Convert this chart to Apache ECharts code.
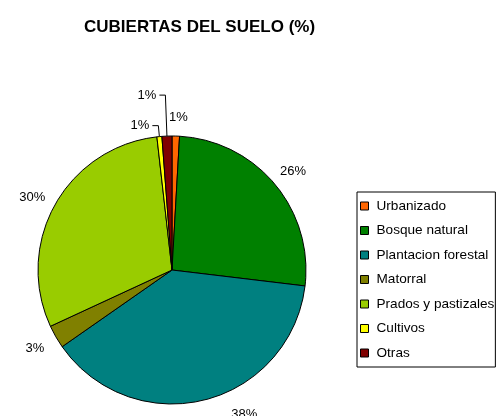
<!DOCTYPE html>
<html>
<head>
<meta charset="utf-8">
<script src="https://cdn.jsdelivr.net/npm/echarts@6/dist/echarts.min.js"></script>
<style>html,body{margin:0;padding:0;background:#fff}#c{width:500px;height:416px}</style>
</head>
<body>
<div id="c"></div>
<script>
const titleText = 'CUBIERTAS DEL SUELO (%)';
const categories = ['Urbanizado', 'Bosque natural', 'Plantacion forestal', 'Matorral', 'Prados y pastizales', 'Cultivos', 'Otras'];
const values = [0.9, 26.0, 38.4, 2.8, 30.1, 0.6, 1.2];
const colors = ['#FF6600', '#008000', '#008080', '#808000', '#99CC00', '#FFFF00', '#800000'];
// slices whose label is drawn with a leader line
const leaderLength = { 'Cultivos': 11, 'Otras': 41 };

const fmt = p => Math.round(p.value) + '%';

const mainData = categories.map((name, i) => {
  const lead = leaderLength[name];
  return {
    name, value: values[i],
    itemStyle: { color: colors[i] },
    label: { show: lead !== undefined },
    labelLine: lead !== undefined ? { show: true, length: lead, length2: 6 } : { show: false }
  };
});

const ringData = categories.map((name, i) => {
  const item = { name, value: values[i], label: { show: leaderLength[name] === undefined } };
  if (name === 'Plantacion forestal') item.label.offset = [34, -9];
  if (name === 'Urbanizado') item.label.offset = [2, 5];
  if (name === 'Prados y pastizales') item.label.offset = [-2, 5];
  if (name === 'Bosque natural') item.label.offset = [0, 3];
  return item;
});

const chart = echarts.init(document.getElementById('c'), null, { renderer: 'canvas' });
chart.setOption({
  animation: false,
  backgroundColor: '#fff',
  title: {
    text: titleText, left: 79, top: 12,
    textStyle: { fontFamily: 'Liberation Sans, Arial, sans-serif', fontSize: 17, fontWeight: 'bold', color: '#000', lineHeight: 20 }
  },
  legend: {
    orient: 'vertical', left: 357, top: 192,
    data: categories,
    borderColor: '#000', borderWidth: 1, borderRadius: 0,
    padding: [7, 1, 7, 3],
    itemWidth: 8, itemHeight: 8, itemGap: 10.5,
    icon: 'rect',
    itemStyle: { borderColor: '#000', borderWidth: 1 },
    textStyle: { fontFamily: 'Liberation Sans, Arial, sans-serif', fontSize: 13.6, color: '#000', lineHeight: 14, padding: [0, 0, 0, 3] },
    selectedMode: false
  },
  series: [
    {
      type: 'pie', name: 'main',
      center: [172, 270], radius: 134,
      startAngle: 90, clockwise: true,
      avoidLabelOverlap: false,
      silent: true,
      itemStyle: { borderColor: '#000', borderWidth: 1 },
      label: {
        position: 'outside', formatter: fmt, distanceToLabelLine: 3,
        fontFamily: 'Liberation Sans, Arial, sans-serif', fontSize: 13, color: '#000'
      },
      labelLine: { lineStyle: { color: '#000', width: 1 } },
      emphasis: { disabled: true },
      data: mainData
    },
    {
      type: 'pie', name: 'labels',
      center: [172, 270], radius: [140, 170],
      startAngle: 90, clockwise: true,
      avoidLabelOverlap: false,
      silent: true,
      itemStyle: { color: 'rgba(0,0,0,0)', borderWidth: 0 },
      label: {
        position: 'inside', formatter: fmt,
        fontFamily: 'Liberation Sans, Arial, sans-serif', fontSize: 13, color: '#000'
      },
      labelLine: { show: false },
      emphasis: { disabled: true },
      data: ringData
    }
  ]
});
</script>
</body>
</html>
